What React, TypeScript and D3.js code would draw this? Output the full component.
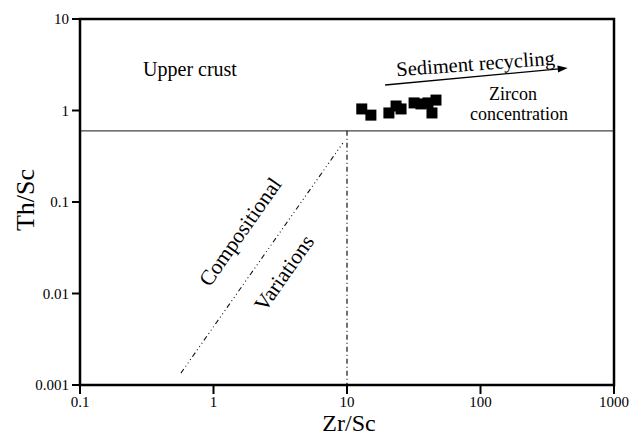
import React from "react";
import * as d3 from "d3";

const zrSc = [12.9, 15.1, 20.6, 23.3, 25.4, 31.8, 35.8, 40.4, 46.4, 43.3];
const thSc = [1.04, 0.89, 0.94, 1.12, 1.04, 1.21, 1.18, 1.21, 1.3, 0.94];
const xTicks = [0.1, 1, 10, 100, 1000];
const yTicks = [0.001, 0.01, 0.1, 1, 10];
const xTickLabels = ["0.1", "1", "10", "100", "1000"];
const yTickLabels = ["0.001", "0.01", "0.1", "1", "10"];
const boundaryTh = 0.6;
const boundaryZr = 10;
const trendX = [0.57, 9.3];
const trendY = [0.00135, 0.44];
const arrowX = [19.3, 450];
const arrowY = [1.9, 2.91];

const W = 632, H = 438;
const m = { left: 80, top: 19, right: 18, bottom: 53 };
const FONT = "Liberation Serif, DejaVu Serif, serif";

export default function App() {
  const x = d3.scaleLog().domain([0.1, 1000]).range([m.left, W - m.right]);
  const y = d3.scaleLog().domain([0.001, 10]).range([H - m.bottom, m.top]);
  const x0 = m.left, x1 = W - m.right, y0 = H - m.bottom, y1 = m.top;
  const s = 11;
  const ax1 = x(arrowX[0]), ay1 = y(arrowY[0]), ax2 = x(arrowX[1]), ay2 = y(arrowY[1]);
  const ang = Math.atan2(ay2 - ay1, ax2 - ax1);
  const ah = 10, aw = 3.5;
  const tipL = [ax2 - ah * Math.cos(ang) + aw * Math.sin(ang), ay2 - ah * Math.sin(ang) - aw * Math.cos(ang)];
  const tipR = [ax2 - ah * Math.cos(ang) - aw * Math.sin(ang), ay2 - ah * Math.sin(ang) + aw * Math.cos(ang)];
  const ts = { fontFamily: FONT };
  return (
    <svg width={W} height={H} style={{ position: "absolute", left: 0, top: 0, background: "#fff", fontFamily: FONT }}>
      <line x1={x0} x2={x1} y1={y(boundaryTh)} y2={y(boundaryTh)} stroke="#444" strokeWidth={1.3} />
      <line x1={x(boundaryZr)} x2={x(boundaryZr)} y1={y(boundaryTh)} y2={y0} stroke="#111" strokeWidth={1.2} strokeDasharray="5,3,1,3" />
      <line x1={x(trendX[0])} y1={y(trendY[0])} x2={x(trendX[1])} y2={y(trendY[1])} stroke="#111" strokeWidth={1.1} strokeDasharray="5,3,1,3,1,3,1,3" />
      <line x1={ax1} y1={ay1} x2={ax2 - 6 * Math.cos(ang)} y2={ay2 - 6 * Math.sin(ang)} stroke="#000" strokeWidth={1.3} />
      <polygon points={`${ax2},${ay2} ${tipL[0]},${tipL[1]} ${tipR[0]},${tipR[1]}`} fill="#000" />
      {zrSc.map((v, i) => (
        <rect key={i} x={x(v) - s / 2} y={y(thSc[i]) - s / 2} width={s} height={s} fill="#000" />
      ))}
      <rect x={x0} y={y1} width={x1 - x0} height={y0 - y1} fill="none" stroke="#000" strokeWidth={2.5} />
      {xTicks.map((t, i) => (
        <g key={i}>
          <line x1={x(t)} x2={x(t)} y1={y0} y2={y0 + 9} stroke="#000" strokeWidth={2} />
          <text style={ts} x={x(t)} y={y0 + 22} textAnchor="middle" fontSize={15}>{xTickLabels[i]}</text>
        </g>
      ))}
      {yTicks.map((t, i) => (
        <g key={i}>
          <line x1={x0 - 8} x2={x0} y1={y(t)} y2={y(t)} stroke="#000" strokeWidth={2} />
          <text style={ts} x={x0 - 11} y={y(t) + 5} textAnchor="end" fontSize={15}>{yTickLabels[i]}</text>
        </g>
      ))}
      <text style={ts} x={(x0 + x1) / 2 + 2} y={431} textAnchor="middle" fontSize={24}>Zr/Sc</text>
      <text style={ts} transform={`translate(34,200) rotate(-90)`} textAnchor="middle" fontSize={26}>Th/Sc</text>
      <text style={ts} x={190} y={76} textAnchor="middle" fontSize={20}>Upper crust</text>
      <text style={ts} transform={`translate(476,70.5) rotate(-4.2)`} textAnchor="middle" fontSize={20.5}>Sediment recycling</text>
      <text style={ts} x={513} y={100} textAnchor="middle" fontSize={18}>Zircon</text>
      <text style={ts} x={519} y={120} textAnchor="middle" fontSize={18}>concentration</text>
      <text style={ts} transform={`translate(246,236) rotate(-55)`} textAnchor="middle" fontSize={21.5}>Compositional</text>
      <text style={ts} transform={`translate(290,277) rotate(-55)`} textAnchor="middle" fontSize={21.5}>Variations</text>
    </svg>
  );
}
